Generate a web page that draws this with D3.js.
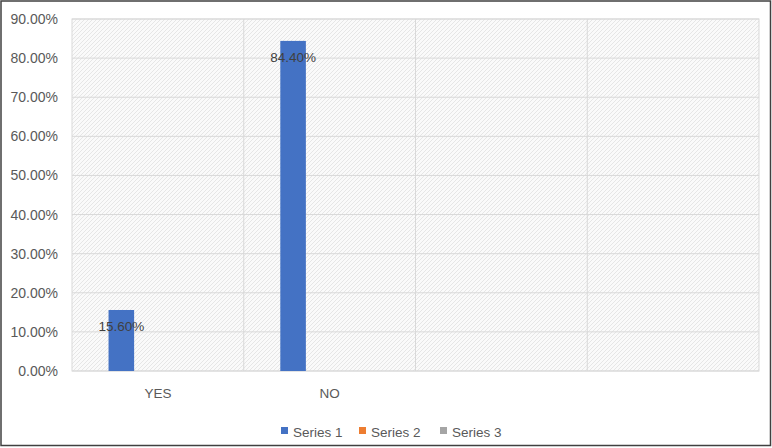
<!DOCTYPE html>
<html><head><meta charset="utf-8">
<script src="https://cdn.jsdelivr.net/npm/d3@7"></script>
<style>html,body{margin:0;padding:0;background:#fff;}svg{display:block;font-family:"Liberation Sans",Arial,sans-serif;}</style>
</head><body>
<script>
const categories = ["YES", "NO", "", " "];
const seriesNames = ["Series 1", "Series 2", "Series 3"];
const series1 = [0.156, 0.844, null, null];
const series2 = [null, null, null, null];
const series3 = [null, null, null, null];
const seriesColors = ["#4472C4", "#ED7D31", "#A5A5A5"];
const yTicks = [0, 0.1, 0.2, 0.3, 0.4, 0.5, 0.6, 0.7, 0.8, 0.9];

const W = 772, H = 448;
const m = {left: 72, right: 13, top: 19, bottom: 77};
const svg = d3.select("body").append("svg").attr("width", W).attr("height", H);

const defs = svg.append("defs");
const pat = defs.append("pattern").attr("id", "hatch").attr("patternUnits", "userSpaceOnUse")
  .attr("width", 4).attr("height", 4);
pat.append("rect").attr("width", 4).attr("height", 4).attr("fill", "#fafafa");
pat.append("path").attr("d", "M-1,1 l2,-2 M0,4 l4,-4 M3,5 l2,-2").attr("stroke", "#e6e6e6").attr("stroke-width", 1);

const x = d3.scaleBand().domain(categories).range([m.left, W - m.right]);
const xs = d3.scaleBand().domain(seriesNames).range([0, x.bandwidth()]).paddingInner(0.3).paddingOuter(1.0);
const y = d3.scaleLinear().domain([0, 0.9]).range([H - m.bottom, m.top]);

// plot area background
svg.append("rect").attr("x", m.left).attr("y", m.top)
  .attr("width", W - m.left - m.right).attr("height", H - m.top - m.bottom)
  .attr("fill", "url(#hatch)").attr("stroke", "#d9d9d9");

// horizontal gridlines
svg.append("g").selectAll("line").data(yTicks).join("line")
  .attr("x1", m.left).attr("x2", W - m.right)
  .attr("y1", d => y(d)).attr("y2", d => y(d))
  .attr("stroke", "#d9d9d9").attr("stroke-width", 1);

// vertical category gridlines
svg.append("g").selectAll("line").data(categories.slice(1)).join("line")
  .attr("x1", d => x(d)).attr("x2", d => x(d))
  .attr("y1", m.top).attr("y2", H - m.bottom)
  .attr("stroke", "#d9d9d9").attr("stroke-width", 1);

// y axis
const yAxis = svg.append("g").attr("transform", `translate(${m.left},0)`)
  .call(d3.axisLeft(y).tickValues(yTicks).tickFormat(d3.format(".2%")).tickSize(0).tickPadding(14));
yAxis.select(".domain").remove();
yAxis.selectAll("text").attr("font-size", 14).attr("fill", "#595959").attr("font-family", "Liberation Sans, Arial, sans-serif");

// x axis
const xAxis = svg.append("g").attr("transform", `translate(0,${H - m.bottom})`)
  .call(d3.axisBottom(x).tickSize(0).tickPadding(17));
xAxis.select(".domain").remove();
xAxis.selectAll("text").attr("font-size", 13.5).attr("fill", "#595959").attr("font-family", "Liberation Sans, Arial, sans-serif");

// bars
const allSeries = [series1, series2, series3];
allSeries.forEach((vals, si) => {
  const data = categories.map((c, i) => ({c, v: vals[i]})).filter(d => d.v != null);
  svg.append("g").selectAll("rect").data(data).join("rect")
    .attr("x", d => x(d.c) + xs(seriesNames[si]))
    .attr("width", xs.bandwidth())
    .attr("y", d => y(d.v))
    .attr("height", d => y(0) - y(d.v))
    .attr("fill", seriesColors[si]);
  svg.append("g").selectAll("text").data(data).join("text")
    .attr("x", d => x(d.c) + xs(seriesNames[si]) + xs.bandwidth() / 2)
    .attr("y", d => y(d.v) + 16)
    .attr("dy", "0.35em")
    .attr("text-anchor", "middle")
    .attr("font-size", 13.5).attr("fill", "#404040")
    .text(d => d3.format(".2%")(d.v));
});

// legend
const legendX = [281, 359, 440];
const lg = svg.append("g");
seriesNames.forEach((s, i) => {
  lg.append("rect").attr("x", legendX[i]).attr("y", 427).attr("width", 7).attr("height", 7).attr("fill", seriesColors[i]);
  lg.append("text").attr("x", legendX[i] + 12).attr("y", 432).attr("dy", "0.35em")
    .attr("font-size", 13.5).attr("fill", "#595959").text(s);
});

// outer border
svg.append("rect").attr("x", 1).attr("y", 1).attr("width", W - 2.5).attr("height", H - 3.5)
  .attr("fill", "none").attr("stroke", "#404040").attr("stroke-width", 1.5);
</script>
</body></html>
